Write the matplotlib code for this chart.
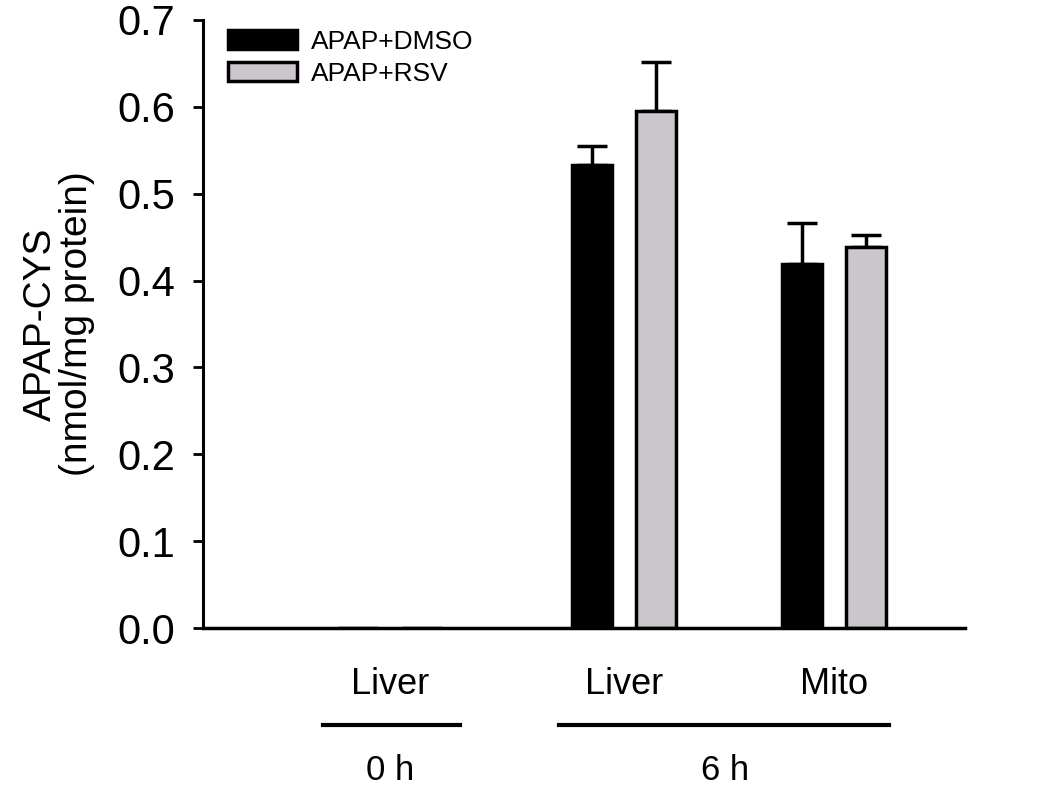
import matplotlib
matplotlib.use('Agg')
import matplotlib.pyplot as plt
from matplotlib import font_manager
import numpy as np

# fuentes: Arial-like
names = {f.name for f in font_manager.fontManager.ttflist}
main_font = 'Liberation Sans'
narrow_font = 'Liberation Sans Narrow' if 'Liberation Sans Narrow' in names else 'Liberation Sans'
plt.rcParams['font.family'] = [main_font, 'DejaVu Sans']

# datos
grupos = ['Liver', 'Liver', 'Mito']
tiempos = ['0 h', '6 h']
pos = np.array([0.89, 2.0, 3.0])
dmso = [0.0, 0.533, 0.419]
dmso_err = [0.0, 0.022, 0.047]
rsv = [0.0, 0.595, 0.439]
rsv_err = [0.0, 0.057, 0.013]

fig = plt.figure(figsize=(10.5, 7.96), dpi=100)
ax = fig.add_axes([0.1933, 0.211, 0.7257, 0.764])

ancho = 0.19
desp = 0.152
gris = '#cbc6cb'

b1 = ax.bar(pos - desp, dmso, ancho, color='black', edgecolor='black', linewidth=2.5,
            label='APAP+DMSO', zorder=2)
b2 = ax.bar(pos + desp, rsv, ancho, color=gris, edgecolor='black', linewidth=2.5,
            label='APAP+RSV', zorder=2)
for x, v, e in zip(pos - desp, dmso, dmso_err):
    if v > 0:
        ax.errorbar(x, v, yerr=[[0], [e]], fmt='none', ecolor='black', elinewidth=2.5,
                    capsize=11, capthick=2.5, zorder=1)
for x, v, e in zip(pos + desp, rsv, rsv_err):
    if v > 0:
        ax.errorbar(x, v, yerr=[[0], [e]], fmt='none', ecolor='black', elinewidth=2.5,
                    capsize=11, capthick=2.5, zorder=1)

ax.set_xlim(0, 3.62)
ax.set_ylim(0, 0.7)
ax.set_yticks(np.arange(0, 0.71, 0.1))
ax.set_yticklabels([f'{t:.1f}' for t in np.arange(0, 0.71, 0.1)], fontsize=30)
ax.tick_params(axis='y', direction='out', length=7, width=2, pad=13)
ax.set_xticks(pos)
ax.set_xticklabels(grupos, fontsize=26, family=[narrow_font, 'DejaVu Sans'])
ax.tick_params(axis='x', length=0, pad=28)
for s in ['top', 'right']:
    ax.spines[s].set_visible(False)
ax.spines['left'].set_linewidth(2.2)
ax.spines['bottom'].set_linewidth(2.5)

ax.set_ylabel('APAP-CYS\n(nmol/mg protein)', fontsize=28, labelpad=16, linespacing=1.0)

# líneas de grupo y etiquetas de tiempo
trans = ax.get_xaxis_transform()
ax.plot([0.57, 1.22], [-0.16, -0.16], color='black', lw=3, transform=trans, clip_on=False)
ax.plot([1.69, 3.26], [-0.16, -0.16], color='black', lw=3, transform=trans, clip_on=False)
ax.text(0.89, -0.235, tiempos[0], transform=trans, ha='center', va='center',
        fontsize=25, family=[narrow_font, 'DejaVu Sans'])
ax.text(2.48, -0.235, tiempos[1], transform=trans, ha='center', va='center',
        fontsize=25, family=[narrow_font, 'DejaVu Sans'])

ax.legend(handles=[b1, b2], loc='upper left', bbox_to_anchor=(0.012, 1.01), frameon=False,
          fontsize=19, handlelength=2.6, handleheight=0.75, handletextpad=0.55,
          labelspacing=0.3, borderaxespad=0.2)

fig.savefig('out.png', dpi=100)
